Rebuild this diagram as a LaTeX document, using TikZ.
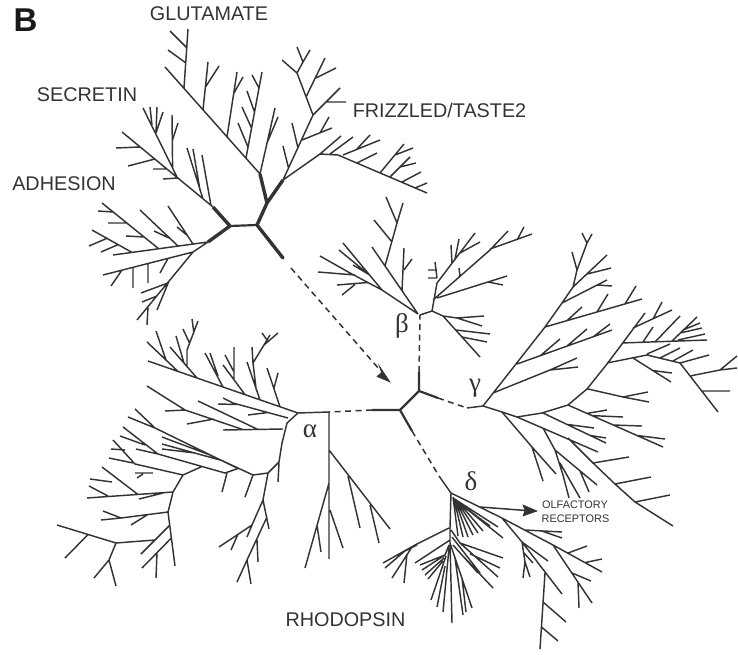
\documentclass[tikz,border=0pt]{standalone}
\usepackage{fontspec}
\setmainfont{Liberation Sans}
\newfontfamily\greekfont{Liberation Serif}
\definecolor{ink}{gray}{0.2}
\tikzset{
  br/.style={draw=ink,line width=1.45pt,line join=round},
  trunk/.style={draw=ink,line width=3.4pt,line join=round},
  midl/.style={draw=ink,line width=2.2pt,line join=round},
  dsh/.style={draw=ink,line width=1.5pt,dash pattern=on 6pt off 4.5pt},
  lab/.style={inner sep=0pt,text=ink,font=\fontsize{19.8}{21}\selectfont},
  small/.style={inner sep=0pt,text=ink,font=\fontsize{10.9}{12}\selectfont},
  grk/.style={inner sep=0pt,text=ink,font=\fontsize{27}{28}\selectfont\greekfont}
}
\begin{document}
\begin{tikzpicture}[x=1pt,y=-1pt]
\useasboundingbox (0,0) rectangle (738,655);
% labels
\node[inner sep=0pt,font=\fontsize{33}{34}\selectfont\bfseries,text=black!90] (panel) at (25.5,20) {B};
\node[lab] (glu) at (209,14) {GLUTAMATE};
\node[lab] (sec) at (87,95) {SECRETIN};
\node[lab] (adh) at (64,184) {ADHESION};
\node[lab] (friz) at (439.5,110) {FRIZZLED/TASTE2};
\node[lab] (rho) at (345.5,620) {RHODOPSIN};
\node[small] (olf) at (575,505) {OLFACTORY};
\node[small] (rec) at (575.5,518.5) {RECEPTORS};
\node[grk] (a) at (310,431) {α};
\node[grk] (b) at (402,326) {β};
\node[grk] (g) at (475,388) {γ};
\node[grk] (d) at (471,481) {δ};
% central junctions
\coordinate (hub) at (400,410);
\coordinate (hubB) at (419,391);
\coordinate (hubBe) at (419,372);
\coordinate (betaN) at (420,315);
\coordinate (hubG) at (438,398);
\coordinate (gamN) at (467,408);
\coordinate (gamM) at (483,406);
\coordinate (hubA) at (372,410);
\coordinate (alpN) at (329,412);
\coordinate (hubD) at (412,431);
\coordinate (delM) at (439,476);
\coordinate (delN) at (451,493);
\coordinate (topE) at (283,258);
\coordinate (topD) at (291,268);
\coordinate (arr) at (390,382);
\coordinate (arrS) at (379,369);
% heavy root of the upper tree
\path[trunk] (213,207)--(230,226) (230,226)--(208,242) (260,174)--(267,203) (257,225)--(267,203)--(283,180);
\path[trunk,line cap=round] (257,225)--(topE);
\path[midl] (230,226)--(257,225);
% dashed connections
\path[dsh] (topD) -- (arrS);
\path[draw=ink,fill=ink,line width=.6pt] (arr)--(377,376.5)--(381.5,372.5)--(379,365.5)--cycle;
\path[midl] (hub)--(hubB)--(hubBe) (hubB)--(hubG) (hub)--(hubA) (hub)--(hubD);
\path[dsh] (hubBe)--(betaN) (hubG)--(gamN) (hubA)--(alpN) (hubD)--(delM);
\path[br] (delM)--(delN) (gamN)--(gamM);
% GLUTAMATE
\path[br] (260,174)--(165,67) (184,88)--(188,29) (186,63)--(168,50) (187,48)--(170,31)
 (203,110)--(208,62) (205.5,87)--(219,66) (227,137)--(237,72) (234,93)--(243,77)
 (246,158)--(262,72) (248,147)--(238,123) (251.5,128)--(242,107) (254.5,112)--(247,91) (259,88)--(252,75)
 (260,174)--(275,108) (267,143)--(278,117);
% FRIZZLED
\path[br] (283,180)--(313,115)--(297,73)--(282,60) (297,73)--(303,62)--(297,47) (303,62)--(310,50)
 (306,97)--(325,58) (316,78)--(336,68) (313,115)--(340,88) (327,102)--(346,102)
 (298,148)--(292,123) (288.5,168)--(283,146) (302,140)--(332,128) (320,133)--(329,117)
 (283,180)--(320,154)--(338,155)--(427,193) (320,154)--(341,136) (330,154)--(353,137)
 (343,155)--(380,140) (357,149)--(370,135) (357,163)--(377,153) (380,173)--(404,144)
 (395,155)--(413,148) (390,177)--(410,157) (400,167)--(416,163) (402,182)--(421,172) (415,188)--(427,183);
% SECRETIN
\path[br] (213,207)--(122,132) (177,177)--(143,108) (172.6,168)--(172,115) (172.5,140)--(178,123)
 (156,133)--(163,112) (152,125)--(150,107) (156,133)--(157,107) (140,147)--(116,148)
 (155,159)--(128,166) (167,169)--(153,169) (178,178)--(163,179)
 (203,199)--(187,148) (200,190)--(193,149) (211,205.5)--(202,155);
% ADHESION
\path[br] (208,242)--(113,255) (132,252.4)--(92,230) (107,238.3)--(89,246) (118,244.7)--(101,252)
 (159,249)--(102,203) (113,212)--(98,211) (127,223)--(108,223) (144,237)--(126,236)
 (178,246)--(140,210) (170,238.4)--(154,231) (193,244)--(168,206) (187.5,235.6)--(177,227)
 (208,242)--(193,252)--(103,275) (122,270)--(111,286) (133,267.3)--(133,288) (148,263.5)--(148,283)
 (168,258.4)--(160,273) (193,252)--(137,320) (169,281)--(157,310) (148,307)--(147,325)
 (168,283)--(141,293) (157,296)--(142,302);
% BETA
\path[br] (betaN)--(432,311) (418,314)--(372,247) (385,266)--(397,223)--(403,203) (397,223)--(386,197) (392,242)--(374,220)
 (402,291)--(404,248) (404,270)--(412,259) (418,314)--(382,290)--(343,243) (370,275.5)--(339,250) (368,274)--(353,265)
 (382,290)--(350,273)--(320,256) (355,275)--(318,272) (368,282.5)--(337,285) (355,284.5)--(342,295)
 (432,311)--(437,283)--(475,233) (437,278)--(428,278) (437,270)--(428,270) (435,262)--(437,278)
 (452,263)--(451,245) (455,259)--(459,239) (460,253)--(480,242)
 (433,300)--(490,250)--(508,231) (490,249)--(532,234) (517,240)--(524,227) (460,276)--(459,268)
 (437,298)--(488,282)--(507,276) (488,282)--(503,285)
 (432,311)--(443,316)--(480,357) (443,316)--(457,318)--(484,316) (457,318)--(482,326) (456,330)--(490,334) (462,337)--(487,342);
% GAMMA upper
\path[br] (gamM)--(545,327)--(562,303)--(573,287)--(577,270)--(587,243)--(592,234) (587,243)--(582,233) (577,270)--(572,252)
 (572,288)--(607,255) (587,274)--(611,268) (562,303)--(607,280) (597,285)--(612,286)
 (545,327)--(642,299) (567,320.6)--(582,307) (597,312)--(608,294) (625,304)--(636,286)
 (517,364)--(612,330) (540,356)--(560,339) (567,346)--(587,329) (593,337)--(610,324)
 (493,393)--(550,370)--(577,358) (550,370)--(578,367);
% GAMMA right
\path[br] (gamM)--(502,412)--(517,417)--(542,413)--(568,405)--(587,389)--(607,364)--(622,344)--(645,313)
 (622,343)--(707,340) (633,328)--(672,310) (653,319)--(662,302) (643,342)--(653,327)
 (655,342)--(680,316) (672,341)--(697,317) (683,330)--(700,323) (680,333)--(702,328) (678,340)--(705,334)
 (607,363)--(647,355)--(680,363)--(709,355) (647,354)--(670,344) (660,358)--(680,348) (673,361)--(693,350)
 (633,358)--(671,382) (653,370.6)--(672,373) (680,363)--(718,412) (690,376)--(720,370)--(737,368) (720,370)--(737,356) (702,391)--(730,391)
 (588,389)--(623,397)--(648,392) (623,397)--(649,402)
 (568,405)--(663,447) (587,413.4)--(607,410) (592,415.6)--(623,417) (613,425)--(642,426) (637,435.5)--(665,439);
% GAMMA lower
\path[br] (502,412)--(532,447)--(543,481) (532,447)--(556,474) (517,417)--(598,452)
 (543,413)--(606,443) (567,424.4)--(594,428) (590,435.4)--(606,438)
 (543,428)--(555,450)--(563,475)--(569,498) (555,450)--(597,485) (560,463)--(580,498) (580,470.8)--(589,492)
 (568,438)--(593,463)--(615,484)--(635,502)--(673,526) (593,463)--(629,457) (615,484)--(651,477) (635,502)--(670,495);
% ALPHA
\path[br] (alpN)--(298,413)--(148,361) (alpN)--(329,559) (329,450)--(390,529) (348,476)--(360,528) (370,505)--(379,543)
 (329,483)--(305,568) (317,525)--(321,552) (330,510)--(343,548)
 (280,406.8)--(267,368) (274,388)--(278,373) (260,400)--(247,362) (256,388)--(253,363)--(270,335) (264,345)--(278,333) (267,340)--(262,333)
 (253,363)--(252,347)
 (245,394.6)--(223,365) (234,379)--(234,347) (234,372)--(225,355) (223,387)--(205,353) (218,376)--(210,353)
 (178,371.4)--(147,342) (166,360)--(156,331) (197,378)--(170,347) (184,363)--(176,336)
 (187,366)--(187,350)--(198,321) (189.5,343)--(183,329) (193.8,332)--(192,319)
 (298,413)--(287,423)--(282,443)--(279,462)--(268,473)--(253,475) (279,463)--(278,482)
 (288,418)--(233,403)--(223,398) (237,404.5)--(218,404) (268,412.5)--(248,415)
 (283,429)--(223,430) (258,429.5)--(198,401) (214,419)--(187,424)
 (243,429.6)--(185,410)--(147,386) (185,410)--(165,411)
 (253,475)--(245,497) (227,473)--(222,492)
 (253,475)--(210,455)--(162,437) (220,460)--(162,444) (195,453)--(162,449)
 (238,468.5)--(225,473)--(158,454)--(123,427) (145,445)--(120,436) (158,454)--(136,449)
 (238,468.5)--(155,428)--(135,409) (155,428)--(128,417)
 (202,466.5)--(183,475)--(135,464)--(113,440) (125,450)--(111,449) (133,463)--(109,458) (153,473)--(135,473) (143,474)--(137,478)
 (183,475)--(173,492)--(87,498) (138,494.5)--(102,467) (112,482)--(90,479) (108,496)--(89,486) (163,493)--(139,499)
 (173,492)--(168,512)--(121,518)--(103,511) (121,518)--(101,520) (147,515)--(131,525)
 (168,512)--(175,566) (170,525)--(141,554) (171.4,538)--(142,568) (157,552.5)--(156,578)
 (155,540)--(116,543)--(57,525) (88,534.5)--(65,558) (116,543)--(109,560)--(94,578) (109,560)--(116,586)
 (268,473)--(263,500)--(269,529) (267,517)--(247,560)--(237,582) (247,560)--(251,584) (257,540)--(258,562)
 (263,500)--(252,525)--(219,547) (238,534)--(231,550) (252,525)--(247,537);
% DELTA
\path[br] (delN)--(450,528)--(450,543) (453,497)--(458,536) (454,499)--(463,537) (455,500)--(468,537) (456,501)--(473,535)
 (458,503)--(478,533) (460,504)--(483,531) (463,506)--(490,526)
 (453,498)--(498,527) (453,498)--(503,538)
 (delN)--(500,517)--(553,545)--(602,572) (525,530)--(562,532) (541.7,531)--(562,538)
 (568,553)--(587,546) (585,562.6)--(602,559) (553,545)--(592,603) (572,573)--(591,581) (578,582)--(579,608)
 (502,518)--(522,542)--(562,594) (522,542)--(548,561) (522,542)--(525,562)--(523,578) (525,562)--(530,577) (524,553)--(533,563)
 (545,573)--(540,649) (543,602)--(566,622) (541.5,627)--(558,641)
 (449,528)--(415,545)--(383,563) (417,545)--(403,552) (406,550)--(385,568) (412,547)--(392,578) (407,554)--(404,583)
 (450,540)--(415,563) (449,545)--(445,555)--(420,565) (445,555)--(422,570) (444,558)--(425,575) (443,561)--(428,579)
 (446,556)--(431,600) (445,566)--(437,607) (449,548)--(443,612)
 (450,543)--(452,623) (450,543)--(472,608) (455,558)--(463,615) (462,578)--(466,612)
 (452,537)--(480,573) (453,545)--(478,573) (451,530)--(460,543)--(503,558) (460,543)--(498,577) (470,553.8)--(500,568) (462,555)--(493,588);
% olfactory arrow
\path[draw=ink,line width=1.5pt] (480,507)--(526,510.5);
\path[draw=ink,fill=ink,line width=.6pt] (537,511)--(523,505)--(525,510.5)--(523,516)--cycle;
\end{tikzpicture}
\end{document}
